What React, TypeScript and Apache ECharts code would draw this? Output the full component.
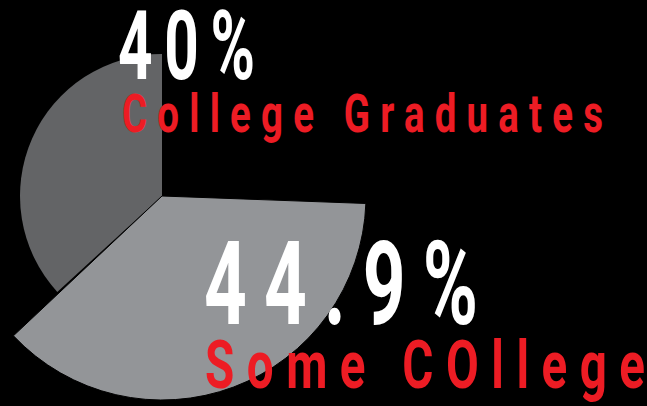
import React, { useEffect, useRef } from "react";
import * as echarts from "echarts";

// ---- data ----
const categories = ["College Graduates", "Some COllege"];
const percentLabels = ["40%", "44.9%"];
// share of the full circle that each slice covers, as drawn (percent)
const sliceShares = [36.8, 37.4];

// ---- layout & style ----
const W = 647;
const H = 406;
const CENTER = [162, 196];
const RADII = [142, 204];
const START_ANGLES = [90, -2.1];
const CLOCKWISE = [false, true];
const SLICE_COLORS = ["#636466", "#939598"];
const RED = "#ED1C24";
const WHITE = "#FFFFFF";
const FONT_FAMILY = "Roboto, 'Liberation Sans', sans-serif";
const CAP_RATIO = 0.711;

const labelLayout = [
  { text: percentLabels[0], left: 118, right: 255, capTop: 13, baseline: 81, color: WHITE, scaleX: 0.63 },
  { text: categories[0], left: 122, right: 603, capTop: 95, baseline: 133, color: RED, scaleX: 0.72 },
  { text: percentLabels[1], left: 204, right: 478, capTop: 243, baseline: 326, color: WHITE, scaleX: 0.64 },
  { text: categories[1], left: 205, right: 645, capTop: 342, baseline: 389, color: RED, scaleX: 0.72 },
];

function measure(text: string, font: string): number {
  const c = document.createElement("canvas");
  const ctx = c.getContext("2d");
  if (!ctx) return text.length * 20;
  ctx.font = font;
  return ctx.measureText(text).width;
}

export default function App() {
  const ref = useRef<HTMLDivElement>(null);

  useEffect(() => {
    document.body.style.margin = "0";
    document.body.style.background = "#000";
    if (!ref.current) return;
    const chart = echarts.init(ref.current, undefined, { renderer: "svg" });

    const spacing: Record<string, number> = {};
    const graphics = labelLayout.map((l) => {
      const capH = l.baseline - l.capTop;
      const fontSize = capH / CAP_RATIO;
      const font = `bold ${fontSize}px ${FONT_FAMILY}`;
      const natural = measure(l.text, font);
      const n = l.text.length;
      const ls = ((l.right - l.left) / l.scaleX - natural) / Math.max(1, n - 1);
      spacing[l.text] = ls;
      return {
        type: "text",
        x: l.left,
        y: (l.capTop + l.baseline) / 2,
        scaleX: l.scaleX,
        z: 10,
        silent: true,
        style: {
          text: l.text,
          fill: l.color,
          fontFamily: FONT_FAMILY,
          fontWeight: "bold",
          fontSize,
          lineHeight: capH * 1.3,
          align: "left",
          verticalAlign: "middle",
        },
      };
    });

    const series = sliceShares.map((share, i) => ({
      type: "pie",
      name: categories[i],
      center: CENTER,
      radius: [0, RADII[i]],
      startAngle: START_ANGLES[i],
      clockwise: CLOCKWISE[i],
      silent: true,
      label: { show: false },
      labelLine: { show: false },
      emphasis: { disabled: true },
      z: i + 1,
      data: [
        {
          name: categories[i],
          value: share,
          itemStyle: {
            color: SLICE_COLORS[i],
            borderColor: i === 1 ? "#000" : "transparent",
            borderWidth: i === 1 ? 1 : 0,
          },
        },
        {
          name: "rest",
          value: 100 - share,
          itemStyle: { color: "rgba(0,0,0,0)", borderWidth: 0 },
        },
      ],
    }));

    chart.setOption({
      animation: false,
      backgroundColor: "#000",
      tooltip: { show: false },
      series,
      graphic: graphics,
    });

    const applySpacing = () => {
      const texts = ref.current?.querySelectorAll("text") || [];
      texts.forEach((t) => {
        const content = t.textContent || "";
        const key = content.trim();
        const ls = spacing[key];
        if (ls != null) {
          const parts: string[] = [];
          for (let k = 0; k < content.length; k++) parts.push(k === 0 ? "0" : ls.toFixed(2));
          t.setAttribute("dx", parts.join(" "));
        }
      });
    };
    applySpacing();
    chart.on("finished", applySpacing);
    const timer = setTimeout(applySpacing, 50);

    return () => {
      clearTimeout(timer);
      chart.dispose();
    };
  }, []);

  return <div ref={ref} style={{ width: W, height: H, background: "#000" }} />;
}
